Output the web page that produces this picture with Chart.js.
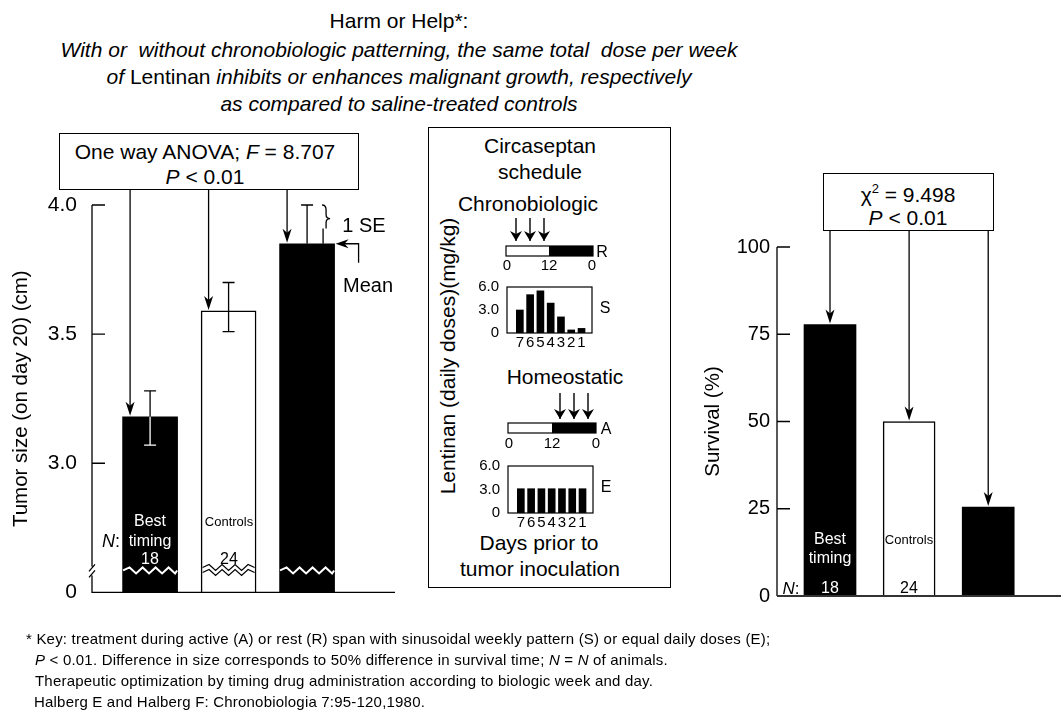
<!DOCTYPE html>
<html>
<head>
<meta charset="utf-8">
<script src="https://cdn.jsdelivr.net/npm/chart.js@4.4.1/dist/chart.umd.min.js"></script>
<style>
body{margin:0;background:#fff;}
#page{position:relative;width:1061px;height:711px;overflow:hidden;background:#fff;
  font-family:"Liberation Sans",Arial,Helvetica,sans-serif;color:#000;}
canvas{position:absolute;}
.t{position:absolute;white-space:pre;line-height:1;transform:translate(-50%,-50%);}
.l{position:absolute;white-space:pre;line-height:1;transform:translateY(-50%);font-size:15px;letter-spacing:0.2px;}
.box{position:absolute;border:1.5px solid #000;box-sizing:border-box;background:#fff;}
.w{color:#fff;}
.m{font-size:21px;}
</style>
</head>
<body>
<div id="page">

  <!-- headline -->
  <div class="t" style="left:399px;top:20px;font-size:21px">Harm or Help*:</div>
  <div class="t" style="left:399px;top:49px;font-size:21px;font-style:italic">With or  without chronobiologic patterning, the same total  dose per week</div>
  <div class="t" style="left:399px;top:76px;font-size:21px"><i>of</i> Lentinan <i>inhibits or enhances malignant growth, respectively</i></div>
  <div class="t" style="left:399px;top:103px;font-size:21px;font-style:italic">as compared to saline-treated controls</div>

  <!-- left chart -->
  <canvas id="tumor" width="420" height="490" style="left:0;top:130px"></canvas>
  <div class="box" style="left:59px;top:133px;width:300px;height:57px"></div>
  <div class="t" style="left:205px;top:151px;font-size:21px">One way ANOVA; <i>F</i> = 8.707</div>
  <div class="t" style="left:205px;top:176px;font-size:21px"><i>P</i> &lt; 0.01</div>
  <div class="t" style="left:364px;top:225px;font-size:20px">1 SE</div>
  <div class="t" style="left:368px;top:285px;font-size:20px">Mean</div>
  <div class="t w" style="left:150px;top:521px;font-size:16px">Best</div>
  <div class="t w" style="left:150px;top:541px;font-size:16px">timing</div>
  <div class="t w" style="left:150px;top:559px;font-size:16px">18</div>
  <div class="t" style="left:229px;top:521px;font-size:13px">Controls</div>
  <div class="t" style="left:229px;top:559px;font-size:16px">24</div>
  <div class="t" style="left:111px;top:541px;font-size:18px"><i>N</i>:</div>

  <!-- middle schedule panel -->
  <div class="box" style="left:428px;top:127px;width:243px;height:461px;border-width:1.2px"></div>
  <div class="t m" style="left:540px;top:145px">Circaseptan</div>
  <div class="t m" style="left:540px;top:171px">schedule</div>
  <div class="t m" style="left:528px;top:203px">Chronobiologic</div>
  <div class="t m" style="left:565px;top:376px">Homeostatic</div>
  <div class="t m" style="left:539px;top:542px">Days prior to</div>
  <div class="t m" style="left:540px;top:568px">tumor inoculation</div>
  <div class="t m" style="left:447px;top:356px;transform:translate(-50%,-50%) rotate(-90deg)">Lentinan (daily doses)(mg/kg)</div>
  <svg style="position:absolute;left:0;top:0" width="1061" height="711">
    <defs>
      <marker id="ah" viewBox="0 0 10 12" refX="10" refY="6" markerWidth="10" markerHeight="12" markerUnits="userSpaceOnUse" orient="auto">
        <path d="M0,0 L10,6 L0,12 L3,6 z" fill="#000"/>
      </marker>
    </defs>
    <g stroke="#000" stroke-width="1.4" marker-end="url(#ah)">
      <line x1="516" y1="218" x2="516" y2="241"/>
      <line x1="530" y1="218" x2="530" y2="241"/>
      <line x1="544" y1="218" x2="544" y2="241"/>
      <line x1="560" y1="393" x2="560" y2="419"/>
      <line x1="574" y1="393" x2="574" y2="419"/>
      <line x1="588" y1="393" x2="588" y2="419"/>
    </g>
    <rect x="506" y="246" width="87" height="10" fill="#fff" stroke="#000" stroke-width="1.2"/>
    <rect x="549" y="246" width="44" height="10" fill="#000"/>
    <rect x="508" y="423" width="88" height="10" fill="#fff" stroke="#000" stroke-width="1.2"/>
    <rect x="552" y="423" width="44" height="10" fill="#000"/>
  </svg>
  <div class="t" style="left:602px;top:252px;font-size:16px">R</div>
  <div class="t" style="left:507px;top:264px;font-size:15px">0</div>
  <div class="t" style="left:549px;top:264px;font-size:15px">12</div>
  <div class="t" style="left:592px;top:264px;font-size:15px">0</div>
  <div class="t" style="left:606px;top:429px;font-size:16px">A</div>
  <div class="t" style="left:509px;top:442px;font-size:15px">0</div>
  <div class="t" style="left:552px;top:442px;font-size:15px">12</div>
  <div class="t" style="left:596px;top:442px;font-size:15px">0</div>
  <div class="t" style="left:605px;top:308px;font-size:16px">S</div>
  <div class="t" style="left:606px;top:487px;font-size:16px">E</div>
  <canvas id="doseS" width="150" height="85" style="left:462px;top:270px"></canvas>
  <canvas id="doseE" width="150" height="86" style="left:462px;top:449px"></canvas>

  <!-- right chart -->
  <canvas id="surv" width="371" height="445" style="left:690px;top:170px"></canvas>
  <div class="box" style="left:823px;top:173px;width:171px;height:58px"></div>
  <div class="t" style="left:908px;top:194px;font-size:21px">&chi;<sup style="font-size:13px;vertical-align:9px;line-height:0">2</sup> = 9.498</div>
  <div class="t" style="left:908px;top:217px;font-size:21px"><i>P</i> &lt; 0.01</div>
  <div class="t w" style="left:830px;top:539px;font-size:16px">Best</div>
  <div class="t w" style="left:830px;top:558px;font-size:16px">timing</div>
  <div class="t w" style="left:830px;top:588px;font-size:16px">18</div>
  <div class="t" style="left:909px;top:539px;font-size:13px">Controls</div>
  <div class="t" style="left:909px;top:588px;font-size:16px">24</div>
  <div class="t" style="left:791px;top:588px;font-size:17px"><i>N</i>:</div>

  <!-- footnote -->
  <div class="l" style="left:26px;top:638px">* Key: treatment during active (A) or rest (R) span with sinusoidal weekly pattern (S) or equal daily doses (E);</div>
  <div class="l" style="left:35px;top:659px"><i>P</i> &lt; 0.01. Difference in size corresponds to 50% difference in survival time; <i>N</i> = <i>N</i> of animals.</div>
  <div class="l" style="left:35px;top:680px">Therapeutic optimization by timing drug administration according to biologic week and day.</div>
  <div class="l" style="left:34px;top:701px">Halberg E and Halberg F: Chronobiologia 7:95-120,1980.</div>
</div>

<script>
// groups: best timing (chronobiologic), saline controls, homeostatic
let groupPos = [1, 2, 3];
let barColors = ["#000000", "#ffffff", "#000000"];

// tumor size on day 20 (cm), axis broken below 3.0 (2.5 shown as 0)
let tumorMean = [3.18, 3.59, 3.85];
let tumorSEUp = [0.10, 0.11, 0.15];
let tumorSEDown = [0.11, 0.08, 0];
let tumorTicks = [2.5, 3.0, 3.5, 4.0];
let tumorBase = 2.5;
let tumorBreak = 2.585;

// survival (%)
let survival = [77.8, 50, 25.5];
let survivalTicks = [0, 25, 50, 75, 100];

// lentinan daily doses (mg/kg), days prior to tumor inoculation
let days = ["7", "6", "5", "4", "3", "2", "1"];
let dayPos = [1, 2, 3, 4, 5, 6, 7];
let doseChrono = [3.0, 5.0, 5.5, 3.9, 2.1, 0.4, 0.6];
let doseHomeo = [3.1, 3.1, 3.1, 3.1, 3.1, 3.1, 3.1];
let doseTicks = [0, 3, 6];

Chart.defaults.font.family = "'Liberation Sans', Arial, Helvetica, sans-serif";
Chart.defaults.color = "#000";

function downArrow(ctx, x, y0, y1){
    ctx.beginPath();
    ctx.moveTo(x, y0);
    ctx.lineTo(x, y1 - 8);
    ctx.stroke();
    ctx.beginPath();
    ctx.moveTo(x, y1);
    ctx.lineTo(x - 4.5, y1 - 14);
    ctx.lineTo(x, y1 - 10);
    ctx.lineTo(x + 4.5, y1 - 14);
    ctx.closePath();
    ctx.fill();
}

function zigzag(ctx, x0, x1, y, amp, step){
    ctx.beginPath();
    let up = true;
    ctx.moveTo(x0, y);
    for (let x = x0 + step / 2; x < x1; x += step / 2){
        ctx.lineTo(x, up ? y - amp : y + amp);
        up = !up;
    }
    ctx.lineTo(x1, y);
    ctx.stroke();
}

let tumorDecor = {
    id: "tumorDecor",
    afterDatasetsDraw(chart){
        let ctx = chart.ctx;
        let a = chart.chartArea;
        let x = chart.scales.x;
        let y = chart.scales.y;
        ctx.save();
        ctx.strokeStyle = "#000";
        ctx.fillStyle = "#000";
        ctx.lineWidth = 1.3;

        // axis with a break near the bottom
        let yb = y.getPixelForValue(tumorBreak);
        ctx.beginPath();
        ctx.moveTo(a.left, y.getPixelForValue(4.0));
        ctx.lineTo(a.left, yb - 4);
        ctx.moveTo(a.left, yb + 5);
        ctx.lineTo(a.left, a.bottom);
        ctx.lineTo(a.right, a.bottom);
        for (let t of tumorTicks){
            if (t === tumorBase) continue;
            let py = y.getPixelForValue(t);
            ctx.moveTo(a.left, py);
            ctx.lineTo(a.left + 13, py);
        }
        ctx.moveTo(a.left - 3, yb + 1);
        ctx.lineTo(a.left + 3, yb - 6);
        ctx.moveTo(a.left - 3, yb + 7);
        ctx.lineTo(a.left + 3, yb);
        ctx.stroke();

        // bar breaks
        for (let i = 0; i < groupPos.length; i++){
            let cx = x.getPixelForValue(groupPos[i]);
            if (barColors[i] === "#000000"){
                ctx.strokeStyle = "#fff";
                ctx.lineWidth = 2;
                zigzag(ctx, cx - 27, cx + 27, yb, 3, 13);
            } else {
                ctx.fillStyle = "#fff";
                ctx.fillRect(cx - 25, yb - 4, 50, 8);
                ctx.strokeStyle = "#000";
                ctx.lineWidth = 1.2;
                zigzag(ctx, cx - 26, cx + 26, yb - 3, 3, 13);
                zigzag(ctx, cx - 26, cx + 26, yb + 2, 3, 13);
            }
        }

        // error bars (1 SE)
        for (let i = 0; i < groupPos.length; i++){
            let cx = x.getPixelForValue(groupPos[i]);
            let pm = y.getPixelForValue(tumorMean[i]);
            let pt = y.getPixelForValue(tumorMean[i] + tumorSEUp[i]);
            ctx.lineWidth = 1.3;
            ctx.strokeStyle = "#000";
            ctx.beginPath();
            ctx.moveTo(cx, pm);
            ctx.lineTo(cx, pt);
            ctx.moveTo(cx - 6, pt);
            ctx.lineTo(cx + 6, pt);
            ctx.stroke();
            if (tumorSEDown[i] > 0){
                let pb = y.getPixelForValue(tumorMean[i] - tumorSEDown[i]);
                ctx.strokeStyle = barColors[i] === "#000000" ? "#fff" : "#000";
                ctx.beginPath();
                ctx.moveTo(cx, pm);
                ctx.lineTo(cx, pb);
                ctx.moveTo(cx - 6, pb);
                ctx.lineTo(cx + 6, pb);
                ctx.stroke();
            }
        }

        // arrows from the ANOVA box
        ctx.strokeStyle = "#000";
        ctx.fillStyle = "#000";
        ctx.lineWidth = 1.3;
        for (let i = 0; i < groupPos.length; i++){
            let cx = x.getPixelForValue(groupPos[i]);
            downArrow(ctx, cx - 20, a.top - 16, y.getPixelForValue(tumorMean[i]) - 1);
        }

        // brace for 1 SE and arrow for mean on the last bar
        let last = groupPos.length - 1;
        let cx = x.getPixelForValue(groupPos[last]);
        let pt = y.getPixelForValue(tumorMean[last] + tumorSEUp[last]);
        let pm = y.getPixelForValue(tumorMean[last]);
        let bx = cx + 15;
        let mid = pt + (pm - pt) * 0.35;
        ctx.beginPath();
        ctx.moveTo(bx, pt);
        ctx.quadraticCurveTo(bx + 4, pt, bx + 4, pt + 5);
        ctx.lineTo(bx + 4, mid - 4);
        ctx.quadraticCurveTo(bx + 4, mid, bx + 8, mid);
        ctx.quadraticCurveTo(bx + 4, mid, bx + 4, mid + 4);
        ctx.lineTo(bx + 4, mid + 10);
        ctx.moveTo(bx + 1, mid + 10);
        ctx.lineTo(bx + 1, pm);
        ctx.stroke();

        let right = cx + 27.5;
        ctx.beginPath();
        ctx.moveTo(right + 24, pm + 19);
        ctx.lineTo(right + 24, pm);
        ctx.lineTo(right + 8, pm);
        ctx.stroke();
        ctx.beginPath();
        ctx.moveTo(right + 1, pm);
        ctx.lineTo(right + 14, pm - 4.5);
        ctx.lineTo(right + 10, pm);
        ctx.lineTo(right + 14, pm + 4.5);
        ctx.closePath();
        ctx.fill();
        ctx.restore();
    }
};

new Chart(document.getElementById("tumor"), {
    type: "bar",
    data: {
        datasets: [{
            data: tumorMean.map(function(m, i){ return {x: groupPos[i], y: [tumorBase, m]}; }),
            backgroundColor: barColors,
            borderColor: "#000",
            borderWidth: [0, 1.5, 0],
            barThickness: 55
        }]
    },
    options: {
        responsive: false,
        animation: false,
        devicePixelRatio: 1,
        layout: {padding: {top: 75, right: 25, bottom: 21, left: 0}},
        plugins: {legend: {display: false}, tooltip: {enabled: false}},
        scales: {
            x: {type: "linear", offset: false, min: 0.26, max: 4.12, display: false},
            y: {
                min: tumorBase, max: 4.0,
                afterBuildTicks: function(s){ s.ticks = tumorTicks.map(function(v){ return {value: v}; }); },
                afterFit: function(s){ s.width = 92; },
                grid: {display: false, drawTicks: false},
                border: {display: false},
                ticks: {
                    font: {size: 21}, padding: 15,
                    callback: function(v){ return v === tumorBase ? "0" : v.toFixed(1); }
                },
                title: {display: true, text: "Tumor size (on day 20) (cm)", font: {size: 20.5}, padding: {top: 9, bottom: 0}}
            }
        }
    },
    plugins: [tumorDecor]
});

let survDecor = {
    id: "survDecor",
    afterDatasetsDraw(chart){
        let ctx = chart.ctx;
        let a = chart.chartArea;
        let x = chart.scales.x;
        let y = chart.scales.y;
        ctx.save();
        ctx.strokeStyle = "#000";
        ctx.fillStyle = "#000";
        ctx.lineWidth = 1.3;
        ctx.beginPath();
        ctx.moveTo(a.left, y.getPixelForValue(100));
        ctx.lineTo(a.left, a.bottom);
        for (let t of survivalTicks){
            if (t === 0) continue;
            let py = y.getPixelForValue(t);
            ctx.moveTo(a.left, py);
            ctx.lineTo(a.left + 13, py);
        }
        ctx.stroke();
        ctx.strokeStyle = "#333";
        ctx.lineWidth = 2;
        ctx.beginPath();
        ctx.moveTo(a.left, a.bottom);
        ctx.lineTo(a.right, a.bottom);
        ctx.stroke();
        ctx.strokeStyle = "#000";
        ctx.lineWidth = 1.3;
        for (let i = 0; i < groupPos.length; i++){
            downArrow(ctx, x.getPixelForValue(groupPos[i]), a.top - 16, y.getPixelForValue(survival[i]) - 1);
        }
        ctx.restore();
    }
};

new Chart(document.getElementById("surv"), {
    type: "bar",
    data: {
        datasets: [{
            data: survival.map(function(v, i){ return {x: groupPos[i], y: v}; }),
            backgroundColor: barColors,
            borderColor: "#000",
            borderWidth: [0, 1.5, 0],
            barThickness: 52
        }]
    },
    options: {
        responsive: false,
        animation: false,
        devicePixelRatio: 1,
        layout: {padding: {top: 77, right: 0, bottom: 19, left: 0}},
        plugins: {legend: {display: false}, tooltip: {enabled: false}},
        scales: {
            x: {type: "linear", offset: false, min: 0.33, max: 3.92, display: false},
            y: {
                min: 0, max: 100,
                afterBuildTicks: function(s){ s.ticks = survivalTicks.map(function(v){ return {value: v}; }); },
                afterFit: function(s){ s.width = 87; },
                grid: {display: false, drawTicks: false},
                border: {display: false},
                ticks: {font: {size: 20}, padding: 7},
                title: {display: true, text: "Survival (%)", font: {size: 20.5}, padding: {top: 11, bottom: 0}}
            }
        }
    },
    plugins: [survDecor]
});

let frame = {
    id: "frame",
    afterDraw(chart){
        let ctx = chart.ctx;
        let a = chart.chartArea;
        ctx.save();
        ctx.strokeStyle = "#000";
        ctx.lineWidth = 1.2;
        ctx.strokeRect(a.left, a.top, a.right - a.left, a.bottom - a.top);
        ctx.restore();
    }
};

function doseChart(id, values, yWidth, padRight){
    new Chart(document.getElementById(id), {
        type: "bar",
        data: {
            datasets: [{
                data: values.map(function(v, i){ return {x: dayPos[i], y: v}; }),
                backgroundColor: "#000",
                barThickness: 7
            }]
        },
        options: {
            responsive: false,
            animation: false,
            devicePixelRatio: 1,
            layout: {padding: {top: 11, right: padRight, bottom: 0, left: 0}},
            plugins: {legend: {display: false}, tooltip: {enabled: false}},
            scales: {
                x: {
                    type: "linear", offset: false, min: -0.25, max: 8.02,
                    afterBuildTicks: function(s){ s.ticks = dayPos.map(function(v){ return {value: v}; }); },
                    afterFit: function(s){ s.height = 22; },
                    grid: {display: false, drawTicks: false},
                    border: {display: false},
                    ticks: {font: {size: 15}, padding: 1, maxRotation: 0, autoSkip: false,
                        callback: function(v){ return days[v - 1]; }}
                },
                y: {
                    min: 0, max: 6,
                    afterBuildTicks: function(s){ s.ticks = doseTicks.map(function(v){ return {value: v}; }); },
                    afterFit: function(s){ s.width = yWidth; },
                    grid: {display: false, drawTicks: false},
                    border: {display: false},
                    ticks: {font: {size: 15}, padding: 8,
                        callback: function(v){ return v === 0 ? "0" : v.toFixed(1); }}
                }
            }
        },
        plugins: [frame]
    });
}

doseChart("doseS", doseChrono, 45, 20);
doseChart("doseE", doseHomeo, 46, 19);
</script>
</body>
</html>
